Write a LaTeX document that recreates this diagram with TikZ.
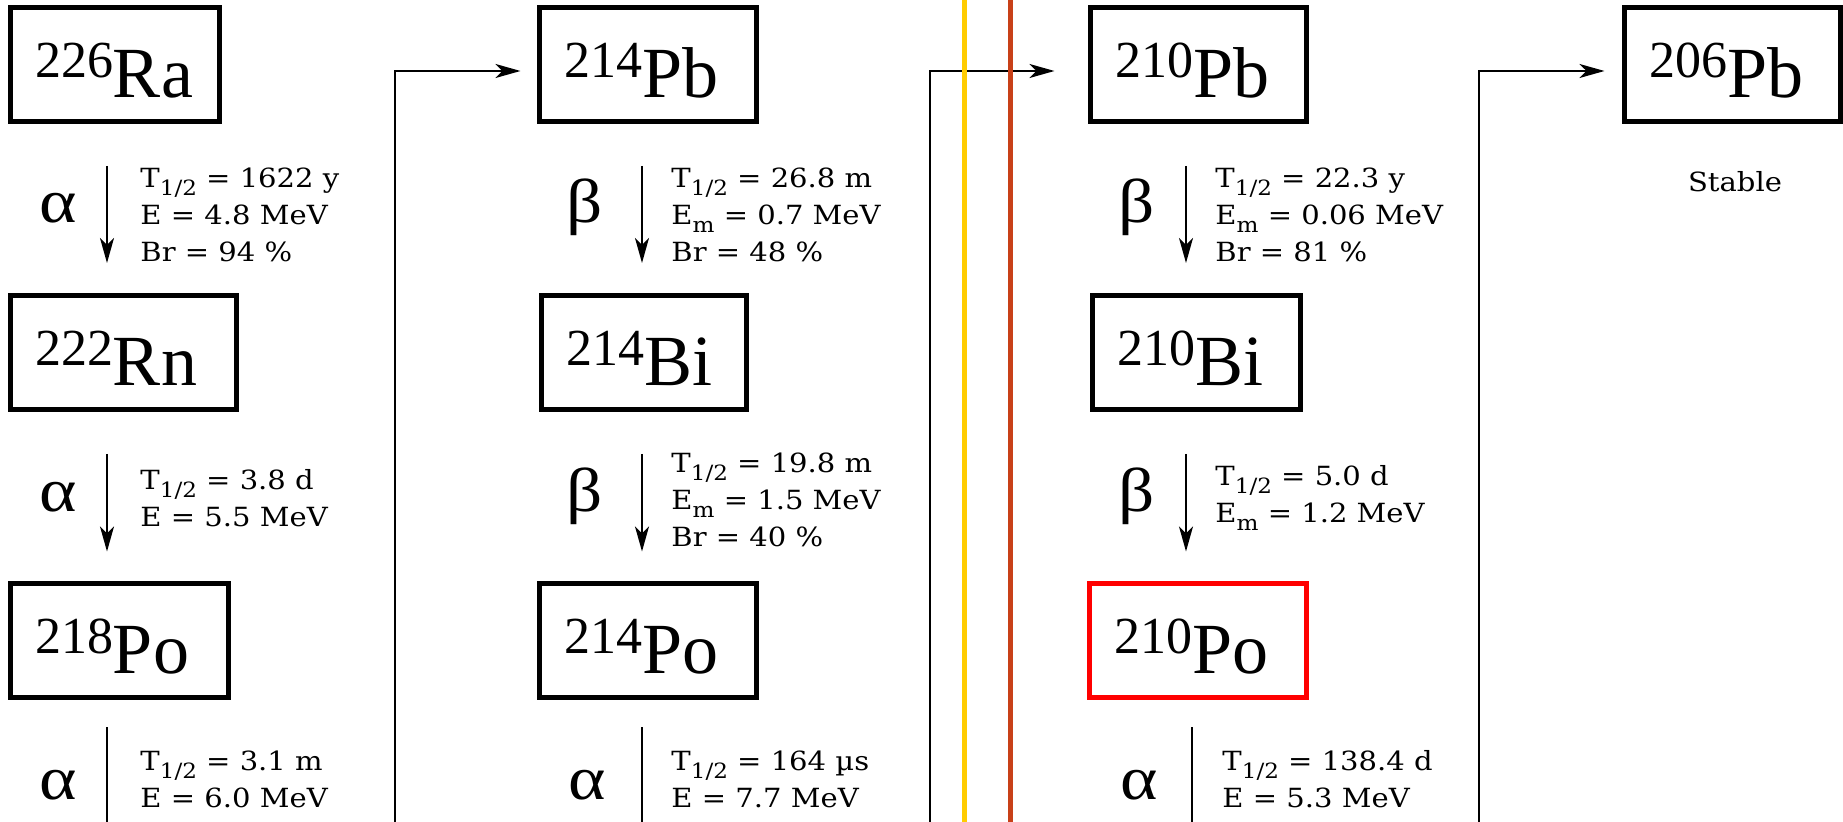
\documentclass[tikz,border=0pt]{standalone}
\usepackage{fontspec}
\usepackage{graphicx}
\setmainfont{Liberation Serif}
\newfontfamily\dejavu{DejaVu Serif}
\usetikzlibrary{arrows.meta}
\definecolor{chainyellow}{RGB}{255,204,0}
\definecolor{chainrust}{RGB}{200,64,24}
% isotope label: mass number raised, symbol large
\newcommand\nuc[2]{\rule{0pt}{33pt}\hspace{2.5pt}\raisebox{10pt}{\fontsize{26}{26}\selectfont #1}\fontsize{36}{36}\selectfont #2}
\newcommand\sbs[1]{\raisebox{-4pt}{\fontsize{10.5}{10.5}\selectfont #1}}
\newcommand\half{\sbs{1/2}}
\begin{document}
\begin{tikzpicture}[x=0.5pt, y=-0.5pt, >={Stealth[length=12.5pt, width=7pt, inset=3.5pt]},
    nuclide/.style={draw, line width=2.5pt, minimum height=57pt, inner xsep=9.75pt, inner ysep=0pt, align=left},
    decay/.style={->, line width=1pt, shorten <=21pt, shorten >=15pt},
    chainline/.style={->, line width=1pt},
    mode/.style={font=\fontsize{31}{31}\selectfont, xscale=1.15, anchor=base, inner sep=0pt},
    info/.style={font=\dejavu\fontsize{13.2}{18.5}\selectfont, xscale=1.1, align=left, anchor=west, inner sep=0pt}]

    \useasboundingbox (0,0) rectangle (1843,822);
    \coordinate (bot) at (0,822);

    % ==================== column 1: 226Ra -> 222Rn -> 218Po ====================
    % 1. boxes
    \node[nuclide, text width=85pt] (ra226) at (115,64.5) {\nuc{226}{Ra}};
    \node[nuclide, text width=93.5pt] (rn222) at (123.5,352.5) {\nuc{222}{Rn}};
    \node[nuclide, text width=89.5pt] (po218) at (119.5,641) {\nuc{218}{Po}};

    % 2. decay arrows
    \coordinate (ax1) at (107,0);
    \draw[decay] (ra226.south -| ax1) -- (rn222.north -| ax1);
    \draw[decay] (rn222.south -| ax1) -- (po218.north -| ax1);
    \draw[line width=1pt, shorten <=13.5pt] (po218.south -| ax1) -- (ax1 |- bot);

    % 3. decay modes and data
    \node[mode] (m11) at (58,223) {α};
    \node[mode] (m12) at (58,512) {α};
    \node[mode] (m13) at (58,800) {α};
    \node[info] (d11) at (140,215) {T\half{} = 1622 y\\E = 4.8 MeV\\Br = 94 \%};
    \node[info] (d12) at (140,498) {T\half{} = 3.8 d\\E = 5.5 MeV};
    \node[info] (d13) at (140,779) {T\half{} = 3.1 m\\E = 6.0 MeV};

    % ==================== column 2: 214Pb -> 214Bi -> 214Po ====================
    \node[nuclide, text width=89pt] (pb214) at (648,64.5) {\nuc{214}{Pb}};
    \node[nuclide, text width=83pt] (bi214) at (644,352.5) {\nuc{214}{Bi}};
    \node[nuclide, text width=89pt] (po214) at (648,641) {\nuc{214}{Po}};

    \coordinate (ax2) at (642,0);
    \draw[decay] (pb214.south -| ax2) -- (bi214.north -| ax2);
    \draw[decay] (bi214.south -| ax2) -- (po214.north -| ax2);
    \draw[line width=1pt, shorten <=13.5pt] (po214.south -| ax2) -- (ax2 |- bot);

    \node[mode] (m21) at (585,223) {β};
    \node[mode] (m22) at (585,512) {β};
    \node[mode] (m23) at (587,800) {α};
    \node[info] (d21) at (671,215) {T\half{} = 26.8 m\\E\sbs{m} = 0.7 MeV\\Br = 48 \%};
    \node[info] (d22) at (671,500) {T\half{} = 19.8 m\\E\sbs{m} = 1.5 MeV\\Br = 40 \%};
    \node[info] (d23) at (671,779) {T\half{} = 164 µs\\E = 7.7 MeV};

    % ==================== column 3: 210Pb -> 210Bi -> 210Po ====================
    \node[nuclide, text width=88.5pt] (pb210) at (1198.5,64.5) {\nuc{210}{Pb}};
    \node[nuclide, text width=84.5pt] (bi210) at (1196.5,352.5) {\nuc{210}{Bi}};
    \node[nuclide, draw=red, text width=89pt] (po210) at (1198,641) {\nuc{210}{Po}};

    \coordinate (ax3) at (1186,0);
    \coordinate (ax3b) at (1192,0);
    \draw[decay] (pb210.south -| ax3) -- (bi210.north -| ax3);
    \draw[decay] (bi210.south -| ax3) -- (po210.north -| ax3);
    \draw[line width=1pt, shorten <=13.5pt] (po210.south -| ax3b) -- (ax3b |- bot);

    \node[mode] (m31) at (1137,223) {β};
    \node[mode] (m32) at (1137,512) {β};
    \node[mode] (m33) at (1139,800) {α};
    \node[info] (d31) at (1215,215) {T\half{} = 22.3 y\\E\sbs{m} = 0.06 MeV\\Br = 81 \%};
    \node[info] (d32) at (1215,498) {T\half{} = 5.0 d\\E\sbs{m} = 1.2 MeV};
    \node[info] (d33) at (1222,779) {T\half{} = 138.4 d\\E = 5.3 MeV};

    % ==================== column 4: 206Pb ====================
    \node[nuclide, text width=88.5pt] (pb206) at (1732.5,64.5) {\nuc{206}{Pb}};
    \node[info, anchor=base] (stable) at (1735,192) {Stable};

    % ==================== links between columns ====================
    \coordinate (c1) at (395,822);
    \coordinate (c2) at (930,822);
    \coordinate (c3) at (1479,822);
    \draw[chainline] (c1) |- ([xshift=-8.25pt, yshift=-3.25pt]pb214.west);
    \draw[chainline] (c2) |- ([xshift=-16.75pt, yshift=-3.25pt]pb210.west);
    \draw[chainline] (c3) |- ([xshift=-8.75pt, yshift=-3.25pt]pb206.west);

    % coloured markers (on top)
    \draw[chainyellow, line width=2.5pt] (964,0) -- (964,822);
    \draw[chainrust, line width=2.5pt] (1010,0) -- (1010,822);

\end{tikzpicture}
\end{document}
